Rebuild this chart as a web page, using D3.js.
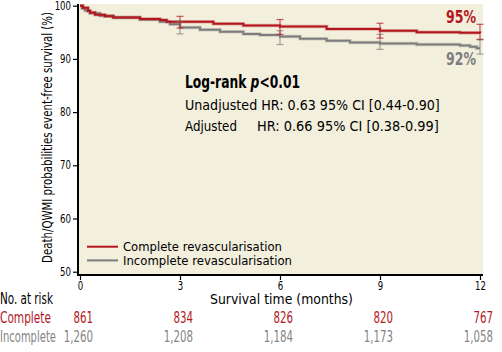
<!DOCTYPE html>
<html>
<head>
<meta charset="utf-8">
<script src="https://cdn.jsdelivr.net/npm/d3@7"></script>
<style>
body{margin:0;background:#fff;}
text{font-family:"DejaVu Sans Condensed","Liberation Sans Narrow",sans-serif;}
.wide{font-family:"DejaVu Sans",Verdana,sans-serif;}
</style>
</head>
<body>
<div id="viz"></div>
<script>
// survival curves, months vs event-free survival (%)
var compT=[0,0.09,0.24,0.3,0.45,0.75,1.0,1.8,2.4,2.6,4.0,4.9,6.0,7.4,9.0,10.1,11.4,12];
var compS=[100,99.6,99.0,98.7,98.3,98.0,97.8,97.5,97.3,97.0,96.6,96.3,96.1,95.6,95.3,95.0,94.9,94.8];
var incT=[0,0.06,0.15,0.3,0.6,1.0,1.8,2.4,2.7,3.0,3.6,4.2,4.9,5.4,6.0,6.6,7.4,8.1,9.0,10.1,11.4,11.7,11.9,12];
var incS=[100,99.5,99.1,98.6,98.1,97.8,97.4,97.0,96.5,95.9,95.5,95.1,94.7,94.5,94.2,93.8,93.4,93.1,92.9,92.7,92.5,92.3,92.0,92.0];
// confidence intervals at 3,6,9,12 months
var ciMonths=[3,6,9,12];
var compLo=[95.8,94.6,93.9,93.6];
var compHi=[98.0,97.4,96.7,96.5];
var incLo=[94.7,92.7,91.8,90.9];
var incHi=[97.1,95.3,94.6,93.7];
// axes + risk table
var yTicks=[50,60,70,80,90,100];
var xTicks=[0,3,6,9,12];
var riskComplete=['861','834','826','820','767'];
var riskIncomplete=['1,260','1,208','1,184','1,173','1,058'];

var width=502,height=352;
var red='#b3171e',gray='#7d7d7d',riskGray='#858585';

var x=d3.scaleLinear().domain([0,12]).range([80,480]);
var y=d3.scaleLinear().domain([50,100]).range([271.7,5.7]);

var svg=d3.select('#viz').append('svg')
    .attr('width',width)
    .attr('height',height);

// squeeze texts horizontally (the original uses a condensed face)
function scaleX(sel,getK){
    sel.each(function(d,i){
        var el=d3.select(this);
        var k=getK(this.getComputedTextLength(),d);
        var tx=+el.attr('x')||0,ty=+el.attr('y')||0;
        var t=el.attr('transform')||'';
        el.attr('x',0).attr('y',0)
          .attr('transform',t+' translate('+tx+','+ty+') scale('+k+',1)');
    });
}
function fit(sel,w){ scaleX(sel,function(n){return w/n;}); }
function condense(sel,k){ scaleX(sel,function(){return k;}); }

svg.append('rect')
    .attr('x',78).attr('y',4)
    .attr('width',405).attr('height',271)
    .style('fill','#f3efdd');

//CURVES----------------------------------------------------------------
var line=d3.line()
    .x(function(d){return x(d[0]);})
    .y(function(d){return y(d[1]);})
    .curve(d3.curveStepAfter);

function drawCurve(T,S,col){
    var pts=T.map(function(t,i){return [t,S[i]];});
    svg.append('path').datum(pts)
        .attr('d',line)
        .style('fill','none')
        .style('stroke',col)
        .style('stroke-opacity',0.3)
        .style('stroke-width',3.5);
    svg.append('path').datum(pts)
        .attr('d',line)
        .style('fill','none')
        .style('stroke',col)
        .style('stroke-width',2);
}
drawCurve(incT,incS,gray);
drawCurve(compT,compS,red);

//ERROR BARS----------------------------------------------------------------
function drawCI(lo,hi,col){
    var g=svg.append('g').selectAll('g').data(ciMonths).enter().append('g')
        .style('stroke',col)
        .style('stroke-opacity',0.7)
        .style('stroke-width',1.2);
    g.append('line')
        .attr('x1',function(d){return x(d);})
        .attr('x2',function(d){return x(d);})
        .attr('y1',function(d,i){return y(lo[i]);})
        .attr('y2',function(d,i){return y(hi[i]);});
    g.append('line')
        .attr('x1',function(d){return x(d)-3.5;})
        .attr('x2',function(d){return x(d)+3.5;})
        .attr('y1',function(d,i){return y(lo[i]);})
        .attr('y2',function(d,i){return y(lo[i]);});
    g.append('line')
        .attr('x1',function(d){return x(d)-3.5;})
        .attr('x2',function(d){return x(d)+3.5;})
        .attr('y1',function(d,i){return y(hi[i]);})
        .attr('y2',function(d,i){return y(hi[i]);});
}
drawCI(incLo,incHi,gray);
drawCI(compLo,compHi,red);

//AXES----------------------------------------------------------------
var yAxis=svg.append('g')
    .attr('transform','translate(78,0)')
    .call(d3.axisLeft(y).tickValues(yTicks).tickSize(5).tickPadding(2));
var xAxis=svg.append('g')
    .attr('transform','translate(0,275)')
    .call(d3.axisBottom(x).tickValues(xTicks).tickSize(5).tickPadding(2));
xAxis.selectAll('text').attr('y',7);
[yAxis,xAxis].forEach(function(a){
    a.select('.domain').remove();
    a.selectAll('line').style('stroke','#000').style('stroke-width',1.2);
    a.selectAll('text')
        .style('font-family','"DejaVu Sans Condensed",sans-serif')
        .style('font-size','11.5px')
        .style('fill','#000')
        .call(condense,0.83);
});
svg.append('line').attr('x1',78).attr('x2',78).attr('y1',4).attr('y2',276)
    .style('stroke','#000').style('stroke-width',2);
svg.append('line').attr('x1',77).attr('x2',483).attr('y1',275).attr('y2',275)
    .style('stroke','#000').style('stroke-width',2);

svg.append('text')
    .attr('transform','translate(52,137.5) rotate(-90)')
    .attr('text-anchor','middle')
    .style('font-size','14px')
    .text('Death/QWMI probabilities event-free survival (%)')
    .call(fit,251);

svg.append('text').attr('class','wide')
    .attr('x',210).attr('y',303.5)
    .style('font-size','13.5px')
    .text('Survival time (months)')
    .call(fit,143);

//LABELS----------------------------------------------------------------
svg.append('text')
    .attr('x',446).attr('y',23)
    .style('font-size','18px').style('font-weight','bold')
    .style('fill',red)
    .text('95%')
    .call(fit,30);
svg.append('text')
    .attr('x',446).attr('y',65)
    .style('font-size','18px').style('font-weight','bold')
    .style('fill',gray)
    .text('92%')
    .call(fit,30);

var lr=svg.append('text')
    .attr('x',185).attr('y',87.5)
    .style('font-size','17px').style('font-weight','bold');
lr.append('tspan').text('Log-rank ');
lr.append('tspan').style('font-style','italic').text('p');
lr.append('tspan').text('<0.01');
lr.call(fit,115);

svg.append('text').attr('class','wide')
    .attr('x',185).attr('y',109.5)
    .style('font-size','14px')
    .text('Unadjusted HR: 0.63 95% CI [0.44-0.90]')
    .call(fit,255);
svg.append('text').attr('class','wide')
    .attr('x',185).attr('y',131)
    .style('font-size','14px')
    .text('Adjusted')
    .call(fit,52);
svg.append('text').attr('class','wide')
    .attr('x',257).attr('y',131)
    .style('font-size','14px')
    .text('HR: 0.66 95% CI [0.38-0.99]')
    .call(fit,182);

//LEGEND----------------------------------------------------------------
var legend=[['Complete revascularisation',red,159],['Incomplete revascularisation',gray,169]];
var lg=svg.selectAll('.lg').data(legend).enter().append('g')
    .attr('transform',function(d,i){return 'translate(87,'+(246.7+i*13.7)+')';});
lg.append('line').attr('x1',0).attr('x2',31)
    .style('stroke',function(d){return d[1];})
    .style('stroke-width',2);
lg.append('text').attr('class','wide')
    .attr('x',36).attr('y',4.3)
    .style('font-size','13px')
    .text(function(d){return d[0];})
    .call(scaleX,function(n,d){return d[2]/n;});

//RISK TABLE----------------------------------------------------------------
svg.append('text').attr('x',0).attr('y',304)
    .style('font-size','15px')
    .text('No. at risk')
    .call(fit,53);
svg.append('text').attr('x',0).attr('y',322.5)
    .style('font-size','15px').style('fill',red)
    .text('Complete')
    .call(fit,51);
svg.append('text').attr('x',0).attr('y',342)
    .style('font-size','15px').style('fill',riskGray)
    .text('Incomplete')
    .call(fit,56);
svg.selectAll('.rc').data(riskComplete).enter().append('text')
    .attr('x',function(d,i){return x(xTicks[i])+13;})
    .attr('y',322.5)
    .attr('text-anchor','end')
    .style('font-size','15px').style('fill',red)
    .text(function(d){return d;})
    .call(condense,0.76);
svg.selectAll('.ri').data(riskIncomplete).enter().append('text')
    .attr('x',function(d,i){return x(xTicks[i])+13;})
    .attr('y',342)
    .attr('text-anchor','end')
    .style('font-size','15px').style('fill',riskGray)
    .text(function(d){return d;})
    .call(condense,0.76);
</script>
</body>
</html>
